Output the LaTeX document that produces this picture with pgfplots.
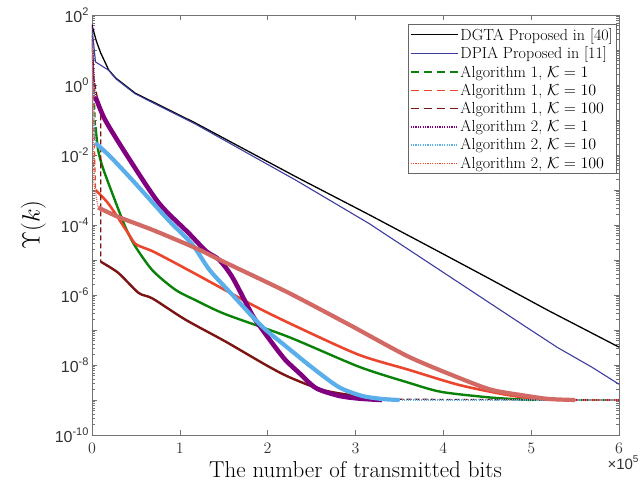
\documentclass[border=0pt]{standalone}
\usepackage{fontspec}
\usepackage{fix-cm}
\usepackage{pgfplots}
\pgfplotsset{compat=1.18}
\newfontfamily\arial{Liberation Sans}
\newcommand{\tl}[1]{10\raisebox{0.85ex}{\fontsize{11}{11}\selectfont #1}}
\definecolor{cBlue}{RGB}{60,60,160}
\definecolor{cGreen}{RGB}{10,130,10}
\definecolor{cRed}{RGB}{235,70,45}
\definecolor{cDark}{RGB}{125,20,20}
\definecolor{cPurple}{RGB}{128,0,128}
\definecolor{cLight}{RGB}{90,175,235}
\definecolor{cSalmon}{RGB}{210,105,100}
\pgfplotsset{
  alg1/.style={dash pattern=on 5pt off 3pt, line width=1.3pt},
  alg2/.style={dash pattern=on 1pt off 1.2pt, line width=1.3pt},
  leg1/.style={dash pattern=on 8pt off 5pt, line width=1.7pt},
  leg2/.style={dash pattern=on 1.2pt off 1.2pt, line width=1.5pt},
  body/.style={smooth, tension=0.45, forget plot},
}
\begin{document}
\begin{tikzpicture}
\begin{axis}[
  scale only axis, width=527pt, height=420pt,
  at={(0,0)}, anchor=south west,
  ymode=log, xmin=0, xmax=6, ymin=1e-10, ymax=1e2,
  xtick={0,1,2,3,4,5,6},
  ytick={1e-10,1e-9,1e-8,1e-7,1e-6,1e-5,1e-4,1e-3,1e-2,1e-1,1,1e1,1e2},
  yticklabels={\tl{-10},,\tl{-8},,\tl{-6},,\tl{-4},,\tl{-2},,\tl{0},,\tl{2}},
  tick label style={font=\arial\fontsize{16}{16}\selectfont, text=black!80},
  xticklabel style={yshift=-5pt},
  axis line style={black!55}, every tick/.style={black!55},
  major tick length=5pt, minor tick length=3pt,
  xlabel={The number of transmitted bits},
  ylabel={$\Upsilon(k)$},
  xlabel style={font=\fontsize{23}{26}\selectfont, yshift=-1pt},
  ylabel style={font=\fontsize{25}{28}\selectfont, yshift=2pt},
  legend style={at={(0.996,0.979)}, anchor=north east, font=\fontsize{16}{17}\selectfont,
    draw=black!60, inner sep=2pt, row sep=1.4pt, cells={anchor=west}},
  legend image code/.code={\draw[#1] (0pt,0pt) -- (47pt,0pt);},
]
% DGTA
\addplot[black, line width=1.3pt] coordinates {
 (0,51.3) (0.05,17.8) (0.1,8.13) (0.19,2.69) (0.27,1.585) (0.49,0.589) (1.18,0.0813)
 (2.32,2.40e-3) (3.15,2.0e-4) (3.91,1.95e-5) (4.5,3.16e-6) (5.2,3.55e-7) (6,3.24e-8)};
\addlegendentry{DGTA Proposed in [40]}
% DPIA
\addplot[cBlue, line width=1.1pt] coordinates {
 (0,44.7) (0.04,4.57) (0.19,2.63) (0.27,1.51) (0.49,0.562) (1.18,0.0759) (2.32,1.91e-3)
 (3.15,1.12e-4) (3.61,1.95e-5) (4.3,1.41e-6) (4.94,1.23e-7) (5.3,3.16e-8) (5.69,8.71e-9) (6,2.82e-9)};
\addlegendentry{DPIA Proposed in [11]}
\addlegendimage{color=cGreen, leg1}
\addlegendentry{Algorithm 1, $\mathcal{K}=1$}
\addlegendimage{color=cRed, leg1}
\addlegendentry{Algorithm 1, $\mathcal{K}=10$}
\addlegendimage{color=cDark, leg1}
\addlegendentry{Algorithm 1, $\mathcal{K}=100$}
\addlegendimage{color=cPurple, leg2}
\addlegendentry{Algorithm 2, $\mathcal{K}=1$}
\addlegendimage{color=cLight, leg2}
\addlegendentry{Algorithm 2, $\mathcal{K}=10$}
\addlegendimage{color=cRed, leg2}
\addlegendentry{Algorithm 2, $\mathcal{K}=100$}

% Algorithm 1, K=1
\addplot[cGreen, alg1, forget plot] coordinates {(0,31.6) (0.02,1) (0.04,0.0631)};
\addplot[cGreen, line width=2.4pt, body] coordinates {
 (0.04,0.0631) (0.07,0.0138) (0.12,4.57e-3) (0.23,8.13e-4) (0.38,8.71e-5) (0.49,2.51e-5)
 (0.69,5.01e-6) (0.95,1.41e-6) (1.18,7.08e-7) (1.52,2.82e-7) (2.24,6.31e-8) (3.04,8.91e-9)
 (3.61,3.09e-9) (3.98,1.7e-9) (4.55,1.17e-9) (5.0,1e-9)};
\addplot[cGreen, alg1, forget plot] coordinates {(5.0,1e-9) (6,1e-9)};
% Algorithm 1, K=10
\addplot[cRed, alg1, forget plot] coordinates {(0,20) (0.02,0.316) (0.03,0.01) (0.04,1e-3)};
\addplot[cRed, line width=2.6pt, body] coordinates {
 (0.04,1e-3) (0.19,3.98e-4) (0.41,5.89e-5) (0.5,2.82e-5) (0.69,1.78e-5) (0.95,8.13e-6)
 (1.18,3.98e-6) (1.87,4.57e-7) (2.36,1.15e-7) (3.04,1.95e-8) (3.61,7.24e-9) (4.18,2.69e-9)
 (4.74,1.38e-9) (5.1,1.07e-9) (5.4,1e-9)};
\addplot[cRed, alg1, forget plot] coordinates {(5.4,1e-9) (6,1e-9)};
% Algorithm 1, K=100
\addplot[cDark, alg1, forget plot] coordinates {(0,25.1) (0.02,1.58) (0.1,0.126) (0.1,8.91e-6)};
\addplot[cDark, line width=2.4pt, body] coordinates {
 (0.1,8.91e-6) (0.3,4.27e-6) (0.53,1.15e-6) (0.69,7.94e-7) (1.06,2.0e-7) (1.52,4.68e-8)
 (1.98,1e-8) (2.24,4.57e-9) (2.62,1.95e-9) (3.0,1.32e-9) (3.4,1.05e-9)};
\addplot[cDark, alg1, forget plot] coordinates {(3.4,1.05e-9) (6,1e-9)};
% Algorithm 2, K=1
\addplot[cPurple, alg2, forget plot] coordinates {(0,56.2) (0.01,6.31) (0.04,0.457)};
\addplot[cPurple, line width=4.6pt, body] coordinates {
 (0.04,0.457) (0.15,0.1) (0.41,8.71e-3) (0.76,4.27e-4) (1.1,5.89e-5) (1.3,1.78e-5)
 (1.45,1e-5) (1.6,3.16e-6) (1.82,2.82e-7) (1.9,1.41e-7) (2.05,4.27e-8) (2.2,1.41e-8)
 (2.36,5.89e-9) (2.55,2.19e-9) (2.81,1.32e-9) (3.04,1.1e-9) (3.3,1e-9)};
\addplot[cPurple, alg2, forget plot] coordinates {(3.3,1e-9) (6,1e-9)};
% Algorithm 2, K=10
\addplot[cLight, alg2, forget plot] coordinates {(0,31.6) (0.01,0.316) (0.04,0.0219)};
\addplot[cLight, line width=4.2pt, body] coordinates {
 (0.04,0.0219) (0.21,8.91e-3) (0.49,1.58e-3) (0.87,1.38e-4) (1.14,2.82e-5) (1.34,5.13e-6)
 (1.6,1e-6) (1.82,2.51e-7) (1.98,1e-7) (2.21,3.39e-8) (2.5,8.71e-9) (2.81,2.34e-9)
 (3.07,1.32e-9) (3.3,1.07e-9) (3.5,1e-9)};
\addplot[cLight, alg2, forget plot] coordinates {(3.5,1e-9) (6,1e-9)};
% Algorithm 2, K=100
\addplot[cSalmon, alg2, forget plot] coordinates {(0,15.8) (0.01,0.1) (0.02,1.58e-3) (0.07,3.16e-4)};
\addplot[cSalmon, line width=4.2pt, body] coordinates {
 (0.07,3.16e-4) (0.3,1.7e-4) (0.69,7.24e-5) (1.18,2.19e-5) (1.5,8.9e-6)
 (2.24,1.15e-6) (2.93,1.41e-7) (3.04,1e-7) (3.61,1.7e-8) (4.18,4.27e-9)
 (4.55,1.95e-9) (4.94,1.32e-9) (5.2,1.07e-9) (5.5,1e-9)};
\addplot[cSalmon, alg2, forget plot] coordinates {(5.5,1e-9) (6,1e-9)};
\end{axis}
\node[font=\arial\fontsize{15}{15}\selectfont, text=black!80] at (531pt,-28pt) {×10\raisebox{0.85ex}{\fontsize{10}{10}\selectfont 5}};
\pgfresetboundingbox
\path[use as bounding box] (-92pt,-52pt) rectangle (550pt,435pt);
\end{tikzpicture}
\end{document}
